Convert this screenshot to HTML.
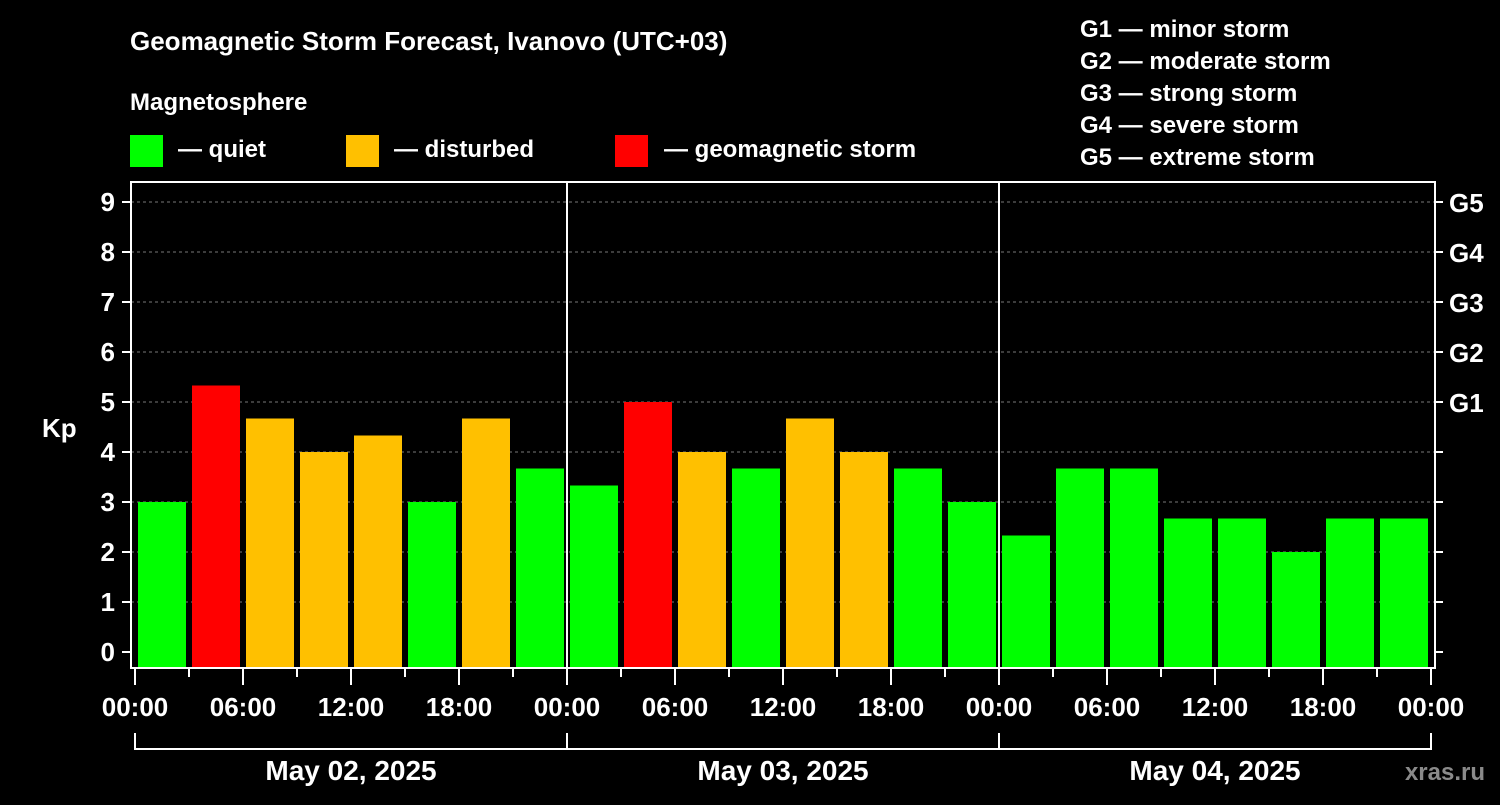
<!DOCTYPE html>
<html><head><meta charset="utf-8"><style>
body{margin:0;background:#000;width:1500px;height:800px;overflow:hidden}
svg text{font-family:"Liberation Sans",sans-serif;font-weight:bold;fill:#fff}
</style></head><body>
<svg id="c" width="1500" height="800" xmlns="http://www.w3.org/2000/svg">
<text x="130" y="50" font-size="26">Geomagnetic Storm Forecast, Ivanovo (UTC+03)</text>
<text x="130" y="110" font-size="24">Magnetosphere</text>
<rect x="130" y="135" width="33" height="32" fill="#00ff00"/>
<text x="178" y="157" font-size="24">— quiet</text>
<rect x="346" y="135" width="33" height="32" fill="#ffc000"/>
<text x="394" y="157" font-size="24">— disturbed</text>
<rect x="615" y="135" width="33" height="32" fill="#ff0000"/>
<text x="664" y="157" font-size="24">— geomagnetic storm</text>
<g font-size="24">
<text x="1080" y="37">G1 — minor storm</text>
<text x="1080" y="69">G2 — moderate storm</text>
<text x="1080" y="101">G3 — strong storm</text>
<text x="1080" y="133">G4 — severe storm</text>
<text x="1080" y="165">G5 — extreme storm</text>
</g>
<text x="42" y="437" font-size="26">Kp</text>
<text x="1485" y="780" font-size="24" fill="#888" style="fill:#8a8a8a" text-anchor="end">xras.ru</text>
<g id="plot"></g>
</svg>
<script>
const kpValues=[3,5.33,4.67,4,4.33,3,4.67,3.67, 3.33,5,4,3.67,4.67,4,3.67,3, 2.33,3.67,3.67,2.67,2.67,2,2.67,2.67];
const dayLabels=["May 02, 2025","May 03, 2025","May 04, 2025"];
const timeLabels=["00:00","06:00","12:00","18:00"];
const yTicks=[0,1,2,3,4,5,6,7,8,9];
const gLabels=[[5,"G1"],[6,"G2"],[7,"G3"],[8,"G4"],[9,"G5"]];
const NS="http://www.w3.org/2000/svg";
const g=document.getElementById('plot');
const L=131,R=1435,T=182,B=668,X0=135,DAY=432;
const y=v=>652-v*50;
const x=h=>X0+h*DAY/24;
function mk(t,a,txt){const e=document.createElementNS(NS,t);for(const k in a)e.setAttribute(k,a[k]);if(txt!=null)e.textContent=txt;g.appendChild(e);return e;}
yTicks.forEach(v=>{
 if(v>0){const l=mk('line',{x1:L,x2:R,y1:y(v),y2:y(v),stroke:'#777','stroke-dasharray':'3,3'});
 
 }
 const t=mk('line',{x1:122,x2:L,y1:y(v),y2:y(v),stroke:'#fff','stroke-width':2});
 
 
 const t2=mk('line',{x1:R,x2:1443,y1:y(v),y2:y(v),stroke:'#fff','stroke-width':2});
 
 
 const lb=mk('text',{x:115,y:y(v)+9,'font-size':26,'text-anchor':'end'},String(v));
 
 
});
gLabels.forEach(([v,s])=>{
 const lb=mk('text',{x:1449,y:y(v)+10,'font-size':26},s);
 
 
});
kpValues.forEach((v,i)=>{
 const col=v>=5?'#ff0000':v>=4?'#ffc000':'#00ff00';
 const b=mk('rect',{x:x(i*3)+3,y:y(v),width:48,height:B-y(v),fill:col});
 
 
});
for(let d=1;d<3;d++){const l=mk('line',{x1:x(d*24),x2:x(d*24),y1:T,y2:B,stroke:'#fff','stroke-width':2});
 
 }
const fr=mk('rect',{x:L,y:T,width:R-L,height:B-T,fill:'none',stroke:'#fff','stroke-width':2});


for(let h=0;h<=72;h+=3){
 const major=h%6==0;
 const t=mk('line',{x1:x(h),x2:x(h),y1:B,y2:major?685:677,stroke:'#fff','stroke-width':2});
 
 
 if(major){const lb=mk('text',{x:x(h),y:716,'font-size':26,'text-anchor':'middle'},timeLabels[(h/6)%4]);
 
 }
}
dayLabels.forEach((s,d)=>{
 const br=mk('path',{d:`M${x(d*24)},733V749H${x(d*24+24)}V733`,fill:'none',stroke:'#fff','stroke-width':2});
 
 
 const lb=mk('text',{x:x(d*24+12),y:780,'font-size':28,'text-anchor':'middle'},s);
 
 
});
</script>
</body></html>
